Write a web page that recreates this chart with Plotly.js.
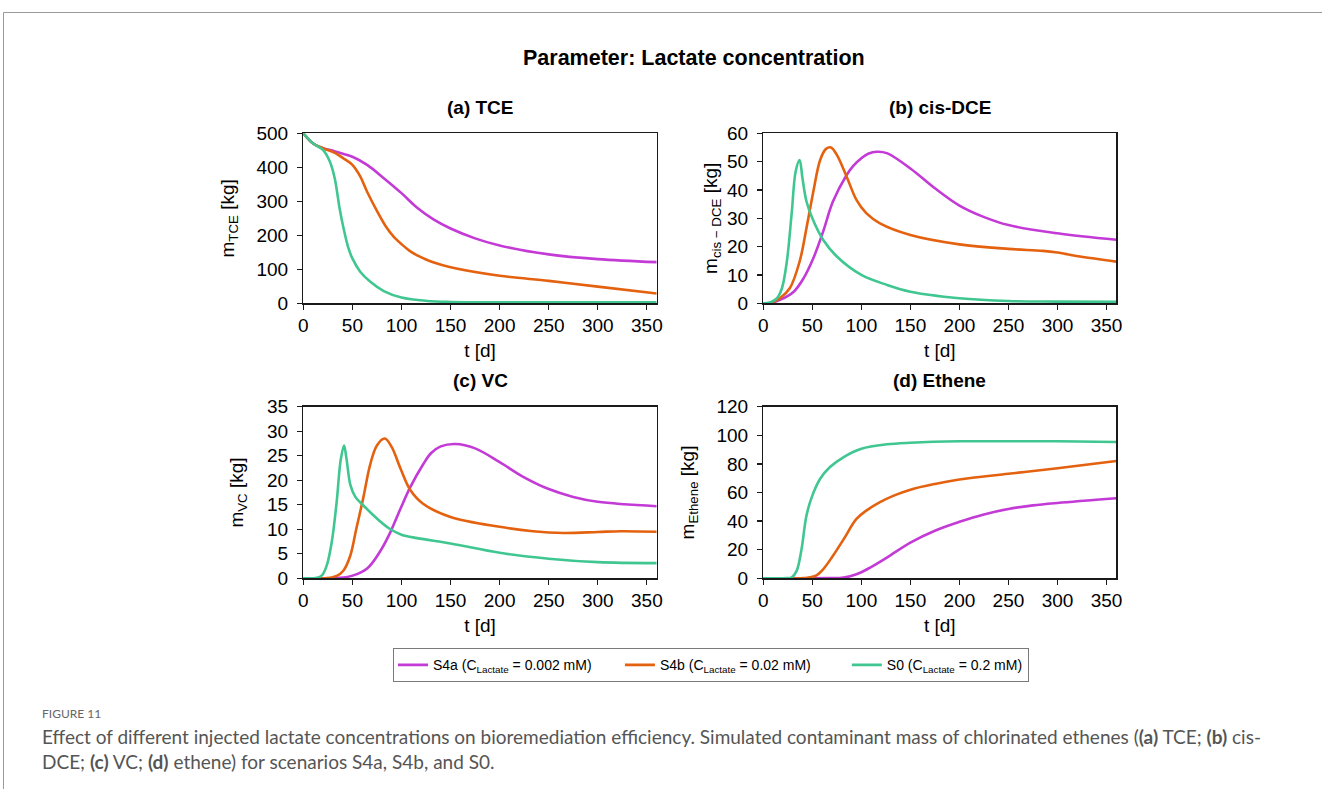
<!DOCTYPE html>
<html>
<head>
<meta charset="utf-8">
<script src="https://cdn.plot.ly/plotly-3.0.1.min.js"></script>
<style>
  html, body { margin: 0; padding: 0; background: #fff; }
  #chart { width: 1322px; height: 789px; }
</style>
</head>
<body>
<div id="chart"></div>
<script>
// Scenario labels and colours (trailing no-break spaces set the gap between legend entries)
const scenarioLabels = [
  'S4a (C<sub>Lactate</sub> = 0.002 mM)\u00a0\u00a0\u00a0\u00a0\u00a0\u00a0',
  'S4b (C<sub>Lactate</sub> = 0.02 mM)\u00a0\u00a0\u00a0\u00a0\u00a0\u00a0\u00a0\u00a0',
  'S0 (C<sub>Lactate</sub> = 0.2 mM)'
];
const scenarioColors = ['#c33ad6', '#e4620f', '#40c690'];

const tickDays = [0, 50, 100, 150, 200, 250, 300, 350];

// (a) TCE mass [kg]
const tceT_S4a = [0, 10, 20, 31, 50, 65, 82, 100, 116, 133, 150, 175, 200, 250, 300, 360];
const tceM_S4a = [500, 470, 456, 448, 431, 407, 368, 324, 281, 246, 220, 191, 170, 144, 130, 121];
const tceT_S4b = [0, 10, 20, 31, 41, 50, 58, 65, 75, 85, 92, 100, 108, 116, 125, 133, 150, 200, 250, 300, 360];
const tceM_S4b = [500, 470, 456, 444, 426, 407, 373, 328, 272, 222, 196, 174, 155, 141, 129, 120, 106, 81, 66, 49, 29];
const tceT_S0 = [0, 10, 20, 27, 32, 37, 41, 46, 50, 58, 68, 82, 100, 126, 150, 200, 300, 360];
const tceM_S0 = [500, 470, 451, 417, 368, 279, 221, 162, 132, 93, 64, 36, 17, 7, 4, 3, 3, 3];

// (b) cis-DCE mass [kg]
const dceT_S4a = [0, 7, 17, 31, 41, 51, 61, 71, 85, 92, 100, 107, 116, 126, 150, 175, 200, 224, 250, 300, 360];
const dceM_S4a = [0, 0.1, 1.2, 4.1, 8.8, 15.9, 25.3, 35.9, 45.3, 48.6, 51.2, 52.8, 53.5, 53.0, 47.6, 40.6, 34.5, 30.6, 27.6, 24.7, 22.4];
const dceT_S4b = [0, 7, 17, 27, 37, 44, 51, 58, 64, 69, 75, 85, 95, 105, 119, 150, 200, 250, 285, 300, 323, 360];
const dceM_S4b = [0, 0.1, 1.8, 5.3, 14.7, 26.5, 39.4, 50.6, 54.5, 55, 52.4, 44.7, 36.5, 31.8, 28.2, 24.1, 20.8, 19.2, 18.5, 17.9, 16.5, 14.7];
const dceT_S0 = [0, 7, 14, 19, 24, 29, 33, 37, 40, 44, 50, 61, 75, 100, 126, 150, 200, 250, 300, 360];
const dceM_S0 = [0, 0.3, 1.8, 5.3, 14.7, 32, 46.5, 50.6, 44, 36, 30, 22.4, 16.5, 10, 6.5, 4.1, 1.8, 0.8, 0.6, 0.5];

// (c) VC mass [kg]
const vcT_S4a = [0, 37, 51, 65, 78, 88, 99, 109, 122, 130, 140, 155, 175, 200, 224, 250, 275, 300, 360];
const vcM_S4a = [0, 0.1, 0.6, 2.0, 5.4, 9.1, 14.2, 18.6, 23.2, 25.5, 26.9, 27.4, 26.5, 23.7, 20.7, 18.2, 16.6, 15.6, 14.7];
const vcT_S4b = [0, 24, 34, 41, 48, 54, 61, 68, 75, 83, 90, 99, 109, 122, 150, 200, 234, 265, 300, 323, 360];
const vcM_S4b = [0, 0.05, 0.5, 1.6, 4.7, 10.1, 16.3, 23.1, 27.1, 28.5, 26.8, 22.4, 18, 15.2, 12.5, 10.5, 9.6, 9.25, 9.45, 9.6, 9.5];
const vcT_S0 = [0, 14, 19, 24, 29, 34, 38, 41.5, 44, 48, 53, 61, 75, 88, 100, 116, 150, 200, 250, 300, 360];
const vcM_S0 = [0, 0.1, 0.6, 2.7, 7.4, 15.6, 24, 27.1, 24.4, 19, 16.6, 14.9, 12.2, 10.1, 8.9, 8.2, 7.1, 5.2, 4.0, 3.3, 3.1];

// (d) Ethene mass [kg]
const ethT_S4a = [0, 65, 82, 95, 109, 126, 150, 175, 200, 224, 250, 275, 300, 360];
const ethM_S4a = [0, 0.1, 0.5, 2.8, 7.5, 14.5, 25, 33.3, 39.5, 44.5, 48.5, 51, 52.7, 56];
const ethT_S4b = [0, 41, 53, 61, 71, 82, 95, 105, 119, 133, 150, 175, 200, 250, 300, 360];
const ethM_S4b = [0, 0.1, 1.6, 6.3, 15.7, 27.4, 41.5, 47.3, 53.2, 57.8, 62, 66, 69.1, 73.1, 77, 82];
const ethT_S0 = [0, 24, 29, 34, 39, 44, 50, 58, 68, 82, 100, 126, 150, 200, 250, 300, 360];
const ethM_S0 = [0, 0.1, 0.7, 5.2, 20.4, 43.8, 57.8, 69.6, 77.8, 84.8, 90.6, 93.7, 94.8, 95.8, 95.8, 95.8, 95.3];

const panels = [
  { axis: '',  title: '(a) TCE',     ylabel: 'm<sub>TCE</sub> [kg]',        yrange: [0, 500], ydtick: 100, ystandoff: 16,
    series: [[tceT_S4a, tceM_S4a], [tceT_S4b, tceM_S4b], [tceT_S0, tceM_S0]] },
  { axis: '2', title: '(b) cis-DCE', ylabel: 'm<sub>cis − DCE</sub> [kg]', yrange: [0, 60],  ydtick: 10,  ystandoff: 4,
    series: [[dceT_S4a, dceM_S4a], [dceT_S4b, dceM_S4b], [dceT_S0, dceM_S0]] },
  { axis: '3', title: '(c) VC',      ylabel: 'm<sub>VC</sub> [kg]',         yrange: [0, 35],  ydtick: 5,   ystandoff: 18,
    series: [[vcT_S4a, vcM_S4a], [vcT_S4b, vcM_S4b], [vcT_S0, vcM_S0]] },
  { axis: '4', title: '(d) Ethene',  ylabel: 'm<sub>Ethene</sub> [kg]',     yrange: [0, 120], ydtick: 20,  ystandoff: 16,
    series: [[ethT_S4a, ethM_S4a], [ethT_S4b, ethM_S4b], [ethT_S0, ethM_S0]] }
];

const W = 1322, H = 789;
const px = v => v / W;
const py = v => 1 - v / H;

// plot-area rectangles in page pixels: [left, right, top, bottom]
const boxes = [
  [303.3, 656.7, 133.3, 303.3],
  [763.3, 1116.3, 133.3, 303.3],
  [303.3, 656.7, 406.7, 578.3],
  [763.3, 1116.3, 406.7, 578.3]
];

const FONT = 'Liberation Sans, Arial, sans-serif';
const CAPFONT = 'Lato, Noto Sans, sans-serif';

const traces = [];
const layout = {
  width: W, height: H,
  margin: { l: 0, r: 0, t: 0, b: 0 },
  paper_bgcolor: '#fff', plot_bgcolor: '#fff',
  font: { family: FONT, color: '#000' },
  showlegend: true,
  legend: {
    orientation: 'h', x: px(393), y: py(648), xanchor: 'left', yanchor: 'top',
    bordercolor: '#7a7a7a', borderwidth: 1.3, bgcolor: '#fff',
    font: { family: FONT, size: 14, color: '#000' },
    itemwidth: 30
  },
  annotations: [],
  shapes: []
};

panels.forEach((p, i) => {
  const xa = 'xaxis' + p.axis, ya = 'yaxis' + p.axis;
  const b = boxes[i];
  p.series.forEach((s, k) => {
    traces.push({
      x: s[0], y: s[1], type: 'scatter', mode: 'lines',
      xaxis: 'x' + p.axis, yaxis: 'y' + p.axis,
      name: scenarioLabels[k], legendgroup: 'g' + k, showlegend: i === 0,
      line: { color: scenarioColors[k], width: 2.6, shape: 'spline', smoothing: 1 },
      hoverinfo: 'skip'
    });
  });
  const common = {
    showline: true, linecolor: '#1a1a1a', linewidth: 1.3, mirror: true,
    ticks: 'outside', ticklen: 5, tickwidth: 1.2, tickcolor: '#1a1a1a',
    showgrid: false, zeroline: false,
    tickfont: { family: FONT, size: 19, color: '#000' }
  };
  layout[xa] = Object.assign({}, common, {
    domain: [px(b[0]), px(b[1])], range: [0, 360],
    tickvals: tickDays, anchor: 'y' + p.axis,
    title: { text: 't [d]', font: { family: FONT, size: 19, color: '#000' }, standoff: 8 }
  });
  layout[ya] = Object.assign({}, common, {
    domain: [py(b[3]), py(b[2])], range: p.yrange, dtick: p.ydtick, tick0: 0,
    anchor: 'x' + p.axis, ticklabelstandoff: 5,
    title: { text: p.ylabel, font: { family: FONT, size: 19, color: '#000' }, standoff: p.ystandoff }
  });
  layout.annotations.push({
    xref: 'paper', yref: 'paper', x: px((b[0] + b[1]) / 2), y: py(b[2] - 26),
    xanchor: 'center', yanchor: 'middle', showarrow: false,
    text: '<b>' + p.title + '</b>', font: { family: FONT, size: 19, color: '#000' }
  });
});

// figure heading
layout.annotations.push({
  xref: 'paper', yref: 'paper', x: px(694), y: py(58), xanchor: 'center', yanchor: 'middle',
  showarrow: false, text: '<b>Parameter: Lactate concentration</b>',
  font: { family: FONT, size: 21.5, color: '#000' }
});

// caption
layout.annotations.push({
  xref: 'paper', yref: 'paper', x: px(40), y: py(713), xanchor: 'left', yanchor: 'middle',
  showarrow: false, text: 'FIGURE 11', font: { family: CAPFONT, size: 12, color: '#666' }
});
layout.annotations.push({
  xref: 'paper', yref: 'paper', x: px(40), y: py(736), xanchor: 'left', yanchor: 'middle',
  showarrow: false,
  text: 'Effect of different injected lactate concentrations on bioremediation efficiency. Simulated contaminant mass of chlorinated ethenes (<b>(a)</b> TCE; <b>(b)</b> cis-',
  font: { family: CAPFONT, size: 19, color: '#555' }
});
layout.annotations.push({
  xref: 'paper', yref: 'paper', x: px(40), y: py(761), xanchor: 'left', yanchor: 'middle',
  showarrow: false,
  text: 'DCE; <b>(c)</b> VC; <b>(d)</b> ethene) for scenarios S4a, S4b, and S0.',
  font: { family: CAPFONT, size: 19, color: '#555' }
});

// page frame lines
layout.shapes.push({ type: 'line', xref: 'paper', yref: 'paper', x0: px(3.5), x1: 1, y0: py(12.5), y1: py(12.5), line: { color: '#9a9a9a', width: 1 } });
layout.shapes.push({ type: 'line', xref: 'paper', yref: 'paper', x0: px(3.5), x1: px(3.5), y0: py(12.5), y1: 0, line: { color: '#9a9a9a', width: 1 } });

Plotly.newPlot('chart', traces, layout, { displayModeBar: false, staticPlot: true });
</script>
</body>
</html>
